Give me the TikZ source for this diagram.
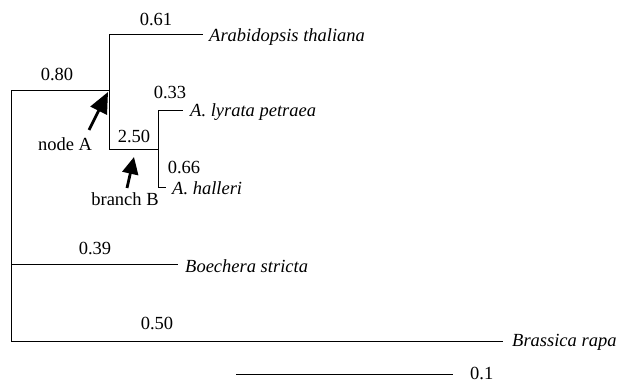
\documentclass[tikz,border=0pt]{standalone}
\usepackage{fontspec}
\setmainfont{Liberation Serif}
\usetikzlibrary{arrows.meta}
\begin{document}
\begin{tikzpicture}[x=1pt,y=-1pt,
  br/.style={line width=1pt},
  lab/.style={inner sep=0pt,font=\fontsize{18.5}{22}\selectfont},
  taxon/.style={lab,anchor=west,font=\fontsize{18.5}{22}\selectfont\itshape},
  pointer/.style={line width=2.8pt,-{Triangle[length=21pt,width=18pt]}},
  pointerb/.style={line width=2.8pt,-{Triangle[length=17pt,width=16pt]}}]
\useasboundingbox (0,0) rectangle (628,382);
% internal points
\coordinate (root) at (11,91);
\coordinate (rootb) at (11,341);
\coordinate (nA) at (109,91);
\coordinate (nAt) at (109,35);
\coordinate (nAb) at (109,150);
\coordinate (nB) at (158,150);
\coordinate (nBt) at (158,111);
\coordinate (nBb) at (158,187);
\coordinate (bo) at (11,264);
\coordinate (ath) at (203,35);
\coordinate (aly) at (183,111);
\coordinate (aha) at (166,187);
\coordinate (bst) at (178,264);
\coordinate (bra) at (503,341);
\coordinate (s1) at (236,374);
\coordinate (s2) at (453,374);
% tree
\draw[br] (root) -- (rootb);
\draw[br] (root) -- (nA);
\draw[br] (nAt) -- (nAb);
\draw[br] (nAt) -- (ath);
\draw[br] (nAb) -- (nB);
\draw[br] (nBt) -- (nBb);
\draw[br] (nBt) -- (aly);
\draw[br] (nBb) -- (aha);
\draw[br] (bo) -- (bst);
\draw[br] (rootb) -- (bra);
\draw[br] (s1) -- (s2);
% taxa
\node[taxon] (tath) at (209,37) {Arabidopsis thaliana};
\node[taxon] (taly) at (190,112) {A. lyrata petraea};
\node[taxon] (taha) at (172,188) {A. halleri};
\node[taxon] (tbst) at (185,266) {Boechera stricta};
\node[taxon] (tbra) at (512,342) {Brassica rapa};
\node[lab,anchor=west] (tsc) at (470,373) {0.1};
% branch lengths
\node[lab] (l061) at (156,19) {0.61};
\node[lab] (l080) at (57,74) {0.80};
\node[lab] (l033) at (170,92) {0.33};
\node[lab] (l250) at (134,136) {2.50};
\node[lab] (l066) at (184,167) {0.66};
\node[lab] (l039) at (95,248) {0.39};
\node[lab] (l050) at (157,323) {0.50};
% annotations
\node[lab] (tnA) at (65,144) {node A};
\node[lab] (tbB) at (125,199) {branch B};
\coordinate (aAt) at (89,130);
\coordinate (aAh) at (108,92);
\coordinate (aBt) at (127,188);
\coordinate (aBh) at (134,157);
\draw[pointer] (aAt) -- (aAh);
\draw[pointerb] (aBt) -- (aBh);
\end{tikzpicture}
\end{document}
